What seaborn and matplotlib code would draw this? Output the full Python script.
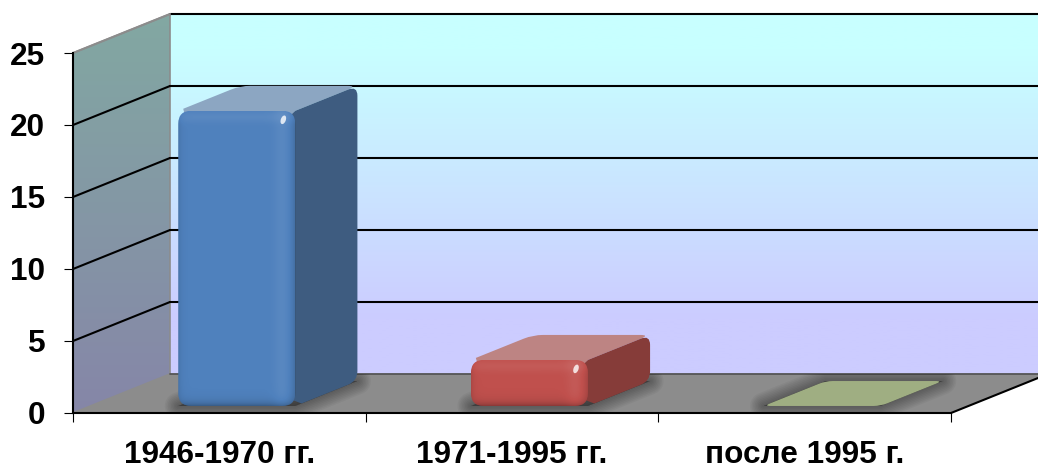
import numpy as np
import seaborn as sns
import matplotlib.pyplot as plt
from matplotlib.colors import to_rgb
from matplotlib.patches import Ellipse, PathPatch, Polygon
from matplotlib.path import Path
from matplotlib.transforms import Affine2D, IdentityTransform

# data
categories = ["1946-1970 гг.", "1971-1995 гг.", "после 1995 г."]
values = [20.5, 3.2, 0.0]
y_ticks = [0, 5, 10, 15, 20, 25]

front_colors = ["#4f81bd", "#c0504d", "#9bbb59"]
side_colors = ["#3e5c80", "#863c39", "#6f8240"]
top_colors = ["#8ca6c2", "#bd8483", "#9fae82"]

sns.set_style("white")
plt.rcParams["font.family"] = ["Liberation Sans", "DejaVu Sans"]

W, H = 1038, 466
fig = plt.figure(figsize=(W / 100, H / 100), dpi=100, facecolor="white")
ax = fig.add_axes([73 / W, (H - 413) / H, 878 / W, 360 / H])
ax.patch.set_visible(False)

sns.barplot(x=categories, y=values, hue=categories, palette=front_colors, width=0.4,
            saturation=1, legend=False, ax=ax, zorder=5, linewidth=0)
bars = list(ax.patches)
ax.set_xlim(-0.5, 2.5)
ax.set_ylim(0, 25)
ax.set_autoscale_on(False)

# depth of the fake 3d box, in data units
dx = 97 / (878 / 3)
dv = 39 / (360 / 25)
px = IdentityTransform()


def lerp(a, b, t):
    return np.array(to_rgb(a)) * (1 - t[..., None]) + np.array(to_rgb(b)) * t[..., None]


def rounded(points, radii):
    # closed path through the points with a rounded corner at each one
    pts = np.array(points, dtype=float)
    n = len(pts)
    if np.isscalar(radii):
        radii = [radii] * n
    verts, codes = [], []
    for i in range(n):
        p, a, b = pts[i], pts[i - 1], pts[(i + 1) % n]
        r = max(radii[i], 0.01)
        ra = min(r, np.linalg.norm(a - p) / 2)
        rb = min(r, np.linalg.norm(b - p) / 2)
        start = p + (a - p) / np.linalg.norm(a - p) * ra
        end = p + (b - p) / np.linalg.norm(b - p) * rb
        verts.append(start)
        codes.append(Path.MOVETO if i == 0 else Path.LINETO)
        verts += [p, end]
        codes += [Path.CURVE3, Path.CURVE3]
    verts.append(verts[0])
    codes.append(Path.CLOSEPOLY)
    return Path(verts, codes)


# back wall
t = np.clip((np.linspace(14, 375, 200) - 50) / 270, 0, 1)[:, None]
ax.imshow(lerp("#c8ffff", "#ccccff", t), aspect="auto", zorder=0, clip_on=False,
          extent=(-0.5 + dx, 2.5 + dx, dv, 25 + dv))

# side wall
t = np.linspace(0, 1, 200)[:, None]
wall = ax.imshow(lerp("#82a8a2", "#8686a8", t), aspect="auto", zorder=0,
                 extent=(-0.5, -0.5 + dx, 0, 25 + dv))
wall_poly = Polygon([(-0.5, 0), (-0.5 + dx, dv), (-0.5 + dx, 25 + dv), (-0.5, 25)],
                    closed=True, fc="none", ec="#8c8c8c", lw=1.2, zorder=1, clip_on=False)
ax.add_patch(wall_poly)
wall.set_clip_path(wall_poly)
wall.set_clip_box(fig.bbox)

# floor
floor = Polygon([(-0.5, 0), (2.5, 0), (2.5 + dx, dv), (-0.5 + dx, dv)], closed=True,
                fc="#8c8c8c", ec="none", zorder=1, clip_on=False)
ax.add_patch(floor)
ax.plot([-0.5 + dx, 2.5 + dx], [dv, dv], color="#555555", lw=1.3, zorder=2, clip_on=False)
ax.plot([2.5, 2.5 + dx], [0, dv], color="black", lw=1.5, zorder=2, clip_on=False)

# grid on both walls
for v in y_ticks[1:]:
    ax.plot([-0.5 + dx, 2.5 + dx], [v + dv, v + dv], color="black", lw=1.5, zorder=2, clip_on=False)
    if v < 25:
        ax.plot([-0.5, -0.5 + dx], [v, v + dv], color="black", lw=1.5, zorder=2, clip_on=False)
ax.plot([-0.5, -0.5 + dx], [25, 25 + dv], color="#8c8c8c", lw=1.5, zorder=2, clip_on=False)

# bars: seaborn draws the front faces, the rest of the box is built on their geometry
near, far = 0.18, 0.82
for i, bar in enumerate(bars):
    x0, x1 = bar.get_x(), bar.get_x() + bar.get_width()
    v = bar.get_height()

    def p(x, y, d):
        return ax.transData.transform((x + d * dx, y + d * dv))

    fl, fr = p(x0, 0, near), p(x1, 0, near)
    bl, br = p(x0, 0, far), p(x1, 0, far)
    tfl, tfr = p(x0, v, near), p(x1, v, near)
    tbl, tbr = p(x0, v, far), p(x1, v, far)

    # soft shadow on the floor
    foot = [fl, fr, br, bl]
    for w in range(3, 30, 3):
        s = PathPatch(Path(foot + [foot[0]], closed=True), transform=px, fc="black", ec="black",
                      alpha=0.04, lw=w * 0.72, joinstyle="round", zorder=3)
        ax.add_patch(s)
        s.set_clip_path(floor)
        s.set_clip_box(None)

    if v < 0.5:
        # a flat bar is only its top face
        bar.set_visible(False)
        ax.add_patch(PathPatch(rounded([tfl, tfr, tbr, tbl], 7), transform=px,
                               fc=top_colors[i], ec="none", zorder=4))
        continue

    # front corners of these two faces run on under the rounded front face
    along = tbr - tfr
    ax.add_patch(PathPatch(
        rounded([tfl + [8, -10], tfl + along * 0.08, tbl, tbr, tfr, tfr + [-8, -10]],
                [0, 0, 10, 10, 0, 0]),
        transform=px, fc=top_colors[i], ec="none", zorder=4))
    ax.add_patch(PathPatch(
        rounded([tfr - [8, 8], tfr, tbr, br, fr + along * 0.1, fr + [-8, 8]],
                [0, 0, 10, 10, 0, 0]),
        transform=px, fc=side_colors[i], ec="none", zorder=4))

    # front face, the seaborn bar moved back and clipped to a rounded shape
    front = rounded([tfl, tfr, fr, fl], 13)
    off = fl - ax.transData.transform((x0, 0))
    bar.set_transform(ax.transData + Affine2D().translate(off[0], off[1]))
    bar.set_clip_on(True)
    bar.set_clip_path(front, px)
    bar.set_clip_box(None)

    # bevel shading over the front face
    nx, ny = int(fr[0] - fl[0]), int(tfl[1] - fl[1])
    xx, yy = np.meshgrid(np.arange(nx) + 0.5, np.arange(ny) + 0.5)
    rgba = np.zeros((ny, nx, 4))
    dark = 0.30 * np.exp(-(ny - yy) / 4) + 0.12 * np.exp(-xx / 3) + 0.18 * np.exp(-(nx - xx) / 5)
    light = 0.07 * np.exp(-((nx - xx - 13) / 9) ** 2) + 0.06 * np.exp(-((yy - 7) / 6) ** 2)
    net = light - dark
    rgba[..., 3] = np.clip(np.abs(net), 0, 1)
    rgba[..., :3] = np.where((net > 0)[..., None], 1.0, 0.0)
    im = ax.imshow(rgba, aspect="auto", zorder=6, transform=px,
                   extent=(fl[0], fr[0], fl[1], tfl[1]))
    im.set_clip_path(front, px)
    im.set_clip_box(fig.bbox)
    ax.add_patch(Ellipse((tfr[0] - 12, tfl[1] - 9), 5, 9, angle=-20, transform=px,
                         fc="white", ec="none", alpha=0.8, zorder=7))

# axes
sns.despine(ax=ax, top=True, right=True)
for side in ["left", "bottom"]:
    ax.spines[side].set_color("black")
    ax.spines[side].set_linewidth(1.5)
    ax.spines[side].set_zorder(8)
ax.set_yticks(y_ticks)
ax.set_yticklabels([str(v) for v in y_ticks], fontsize=22.7, fontweight="bold", color="black")
ax.set_xticks([-0.5, 0.5, 1.5, 2.5])
ax.set_xticklabels([])
ax.set_xticks([0, 1, 2], minor=True)
ax.set_xticklabels(categories, minor=True, fontsize=22.7, fontweight="bold", color="black")
ax.tick_params(axis="y", which="major", left=True, length=6.5, width=0.8, color="black", pad=13.5)
ax.tick_params(axis="x", which="major", bottom=True, length=6.5, width=0.8, color="black")
ax.tick_params(axis="x", which="minor", bottom=False, length=0, pad=19.5)
ax.set_xlabel("")
ax.set_ylabel("")

fig.savefig("out.png", dpi=100)
